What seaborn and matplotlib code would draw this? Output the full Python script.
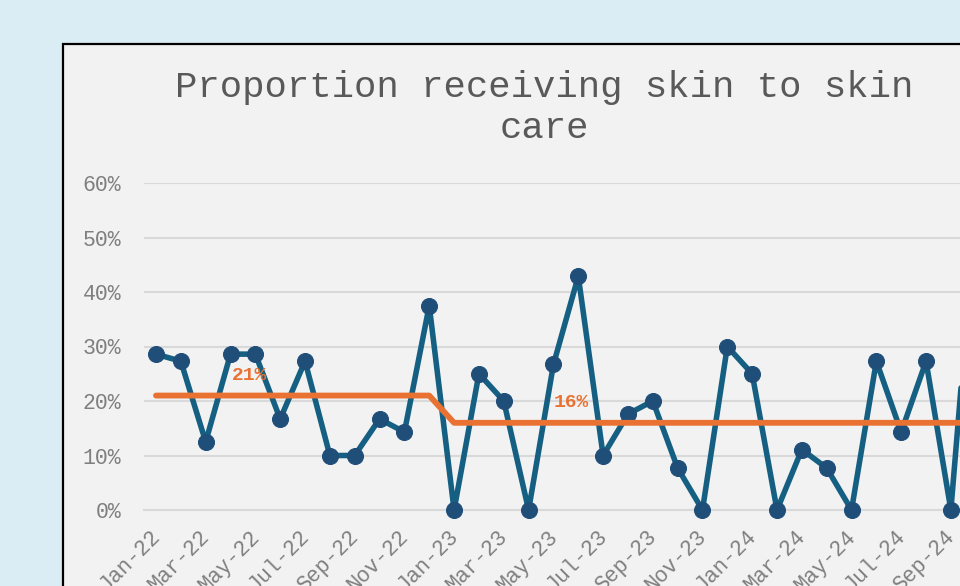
import matplotlib
matplotlib.use("Agg")
import matplotlib.pyplot as plt
import seaborn as sns
import numpy as np
import pandas as pd
from matplotlib.patches import Rectangle
from matplotlib.transforms import ScaledTranslation

# ---------------- data ----------------
months = ["Jan-22", "Feb-22", "Mar-22", "Apr-22", "May-22", "Jun-22", "Jul-22", "Aug-22",
          "Sep-22", "Oct-22", "Nov-22", "Dec-22", "Jan-23", "Feb-23", "Mar-23", "Apr-23",
          "May-23", "Jun-23", "Jul-23", "Aug-23", "Sep-23", "Oct-23", "Nov-23", "Dec-23",
          "Jan-24", "Feb-24", "Mar-24", "Apr-24", "May-24", "Jun-24", "Jul-24", "Aug-24",
          "Sep-24", "Oct-24"]
proportion = [28.6, 27.3, 12.5, 28.6, 28.6, 16.7, 27.3, 10.0, 10.0, 16.7, 14.3, 37.5,
              0.0, 25.0, 20.0, 0.0, 26.7, 42.9, 10.0, 17.6, 20.0, 7.7, 0.0, 30.0,
              25.0, 0.0, 11.1, 7.7, 0.0, 27.3, 14.3, 27.3, 0.0, 55.0]
mean_line = [21.0] * 12 + [16.0] * 22
mean_labels = ["21%", "16%"]
mean_label_pos = [3.75, 16.7]
mean_label_val = [21.0, 16.0]
y_ticks = [0, 10, 20, 30, 40, 50, 60]

df = pd.DataFrame({"idx": np.arange(len(months)), "prop": proportion, "mean": mean_line})

# ---------------- style ----------------
sns.set_style("white")
mono = ["Liberation Mono", "DejaVu Sans Mono"]
plt.rcParams["font.family"] = mono

W, H = 960, 586
fig = plt.figure(figsize=(W / 100, H / 100), dpi=100, facecolor="#DAEDF4")

panel = Rectangle((63 / W, -0.2), 1.2, (1 - 44 / H) + 0.2, transform=fig.transFigure,
                  facecolor="#F2F2F2", edgecolor="black", lw=1.6, zorder=0)
fig.patches.append(panel)

step = 24.84
x0 = 156 - step / 2
n_cols = 35
ax = fig.add_axes([x0 / W, 1 - 510 / H, n_cols * step / W, (510 - 183) / H])
ax.set_facecolor("none")
ax.set_zorder(2)

sns.lineplot(data=df, x="idx", y="prop", ax=ax, color="#156082", lw=4,
             marker="o", markersize=11.5, markerfacecolor="#1F4E79",
             markeredgecolor="#1F4E79", clip_on=False, zorder=3)
sns.lineplot(data=df, x="idx", y="mean", ax=ax, color="#E97132", lw=4.2,
             clip_on=False, zorder=4)

for lab, xp, yv in zip(mean_labels, mean_label_pos, mean_label_val):
    ax.annotate(lab, xy=(xp, yv), xytext=(0, 20), textcoords="offset pixels",
                ha="center", va="center", color="#E97132", fontsize=14,
                fontweight="bold", family=mono, zorder=5)

ax.set_xlim(-0.5, n_cols - 0.5)
ax.set_ylim(0, 60)
ax.set_xlabel("")
ax.set_ylabel("")

# y axis
ax.set_yticks(y_ticks)
ax.set_yticklabels([f"{v}%" for v in y_ticks], fontsize=15.5, color="#7F7F7F", family=mono)
ax.tick_params(axis="y", length=0, pad=16)
ax.yaxis.grid(True, color="#D9D9D9", lw=1.5, zorder=1)
ax.xaxis.grid(False)
for s in ["top", "right", "left"]:
    ax.spines[s].set_visible(False)
ax.spines["bottom"].set_color("#D9D9D9")
ax.spines["bottom"].set_linewidth(1.5)

# x axis: tick marks between categories, labels every 2 months
ax.set_xticks(np.arange(-0.5, n_cols, 2))
ax.set_xticklabels([])
ax.tick_params(axis="x", which="major", length=6, width=1.5, color="#D9D9D9", direction="out")
lab_pos = np.arange(0, len(months), 2)
ax.set_xticks(lab_pos, minor=True)
ax.set_xticklabels([months[i] for i in lab_pos], minor=True, rotation=45,
                   ha="right", va="center", rotation_mode="anchor",
                   fontsize=15.5, color="#7F7F7F", family=mono)
ax.tick_params(axis="x", which="minor", length=0, pad=17)
off = ScaledTranslation(1 / 100, 0, fig.dpi_scale_trans)
for t in ax.get_xticklabels(minor=True):
    t.set_transform(t.get_transform() + off)

# title
fig.text(544 / W, 1 - 97 / H, "Proportion receiving skin to skin", ha="center",
         va="baseline", fontsize=26.8, color="#595959", family=mono)
fig.text(544 / W, 1 - 138 / H, "care", ha="center", va="baseline",
         fontsize=26.8, color="#595959", family=mono)

fig.savefig("out.png", dpi=100, facecolor=fig.get_facecolor())
